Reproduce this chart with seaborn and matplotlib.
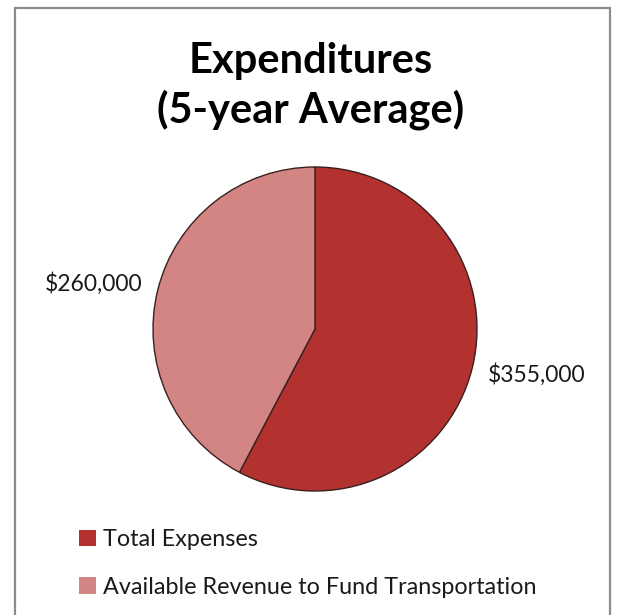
import numpy as np
import matplotlib
matplotlib.use("Agg")
import matplotlib.pyplot as plt
import seaborn as sns
from matplotlib.patches import Rectangle

categories = ["Total Expenses", "Available Revenue to Fund Transportation"]
values = [355000, 260000]
value_labels = ["$355,000", "$260,000"]
colors = ["#B3312F", "#D38584"]

sns.set_theme(style="white")
plt.rcParams['font.family'] = ['Lato', 'DejaVu Sans']

W, H = 617, 615
fig = plt.figure(figsize=(W / 100, H / 100), dpi=100)
fig.patch.set_facecolor("white")
fig.patches.append(Rectangle((15 / W, -0.05), (610 - 15) / W, 1.05 - 7.5 / H,
                             transform=fig.transFigure, fill=False,
                             edgecolor="#8C8C8C", linewidth=1.6))

ax = fig.add_axes([153 / W, 1 - 491 / H, 324 / W, 324 / H])
wedges, _ = ax.pie(values, colors=colors, startangle=90, counterclock=False,
                   wedgeprops=dict(edgecolor="#3a2020", linewidth=1.0))
ax.set_xlim(-1, 1)
ax.set_ylim(-1, 1)
ax.set_aspect("equal")

for w, lab in zip(wedges, value_labels):
    ang = np.deg2rad((w.theta1 + w.theta2) / 2)
    ax.text(1.41 * np.cos(ang), 1.41 * np.sin(ang) + 0.06 * np.sign(np.cos(ang)),
            lab, ha="center", va="center", fontsize=16.5, color="#1a1a1a")

fig.text(311 / W, 1 - 73 / H, "Expenditures", ha="center", va="baseline",
         fontsize=30, fontweight="bold", color="black")
fig.text(311 / W, 1 - 123 / H, "(5-year Average)", ha="center", va="baseline",
         fontsize=30, fontweight="bold", color="black")

handles = [Rectangle((0, 0), 1, 1, facecolor=c, edgecolor="none") for c in colors]
leg = fig.legend(handles, categories, loc="upper left",
                 bbox_to_anchor=(79 / W, 1 - 529 / H),
                 frameon=False, fontsize=16.8, handlelength=0.72, handleheight=0.72,
                 handletextpad=0.3, labelspacing=1.15, borderpad=0, borderaxespad=0)
for t in leg.get_texts():
    t.set_color("#1a1a1a")

fig.savefig("out.png", dpi=100)
